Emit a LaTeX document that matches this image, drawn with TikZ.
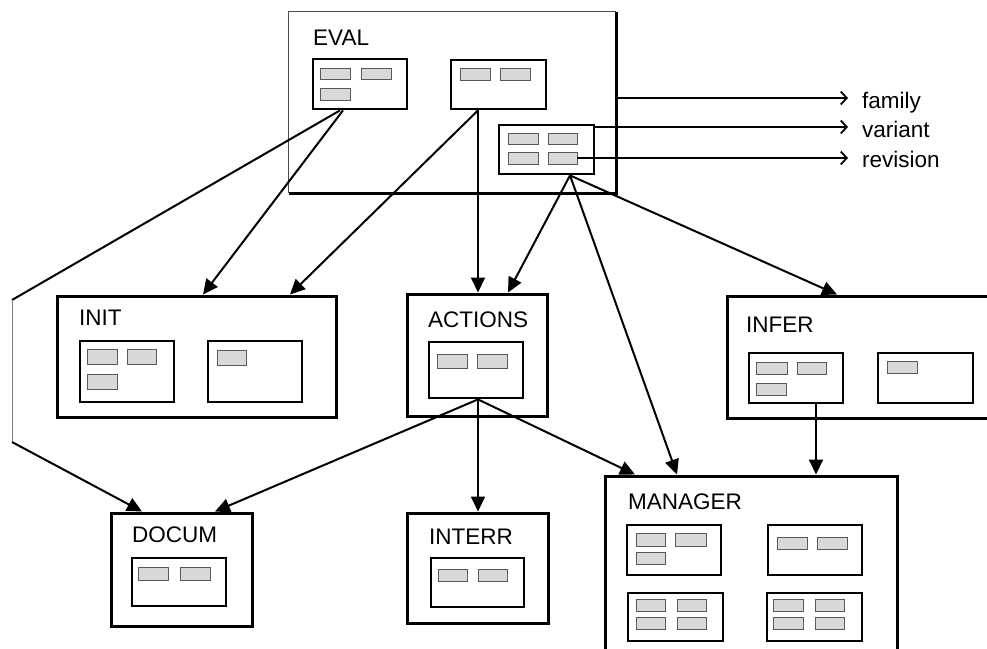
\documentclass[tikz,border=0pt]{standalone}
\usepackage{fontspec}
\setmainfont{Liberation Sans}
\usetikzlibrary{fit,arrows.meta}
\newcommand\bx[6]{\node[#1, fit={(#3,#4) (#5,#6)}] (#2) {};}
\newcommand\sr[5]{\node[sm, fit={(#2,#3) (#4,#5)}] (#1) {};}
\begin{document}
\begin{tikzpicture}[x=1pt,y=-1pt,
  box/.style={draw, line width=3pt, inner sep=0pt},
  inbox/.style={draw, line width=2.8pt, inner sep=0pt},
  sm/.style={draw=gray!70!black, fill=gray!30, line width=0.8pt, inner sep=0pt},
  lbl/.style={font=\fontsize{22.5}{22.5}\selectfont, inner sep=0pt, anchor=base west},
  con/.style={line width=2pt},
  arr/.style={con, -{Triangle[length=15pt,width=14pt]}},
  oarr/.style={line width=1.8pt, -{Straight Barb[length=6pt,width=13pt]}}]
\useasboundingbox (0,0) rectangle (987,648);
\clip (0,0) rectangle (987,648);
% EVAL
\node[inner sep=0pt, fit={(289,12) (616,193)}] (EVAL) {};
\draw[line width=1.2pt, gray!60!black] (EVAL.south west) -- (EVAL.north west) -- (EVAL.north east);
\draw[line width=3pt] (EVAL.north east) -- (EVAL.south east) -- (EVAL.south west);
\node[lbl] (tEVAL) at (313,45) {EVAL};
\bx{inbox}{ev1}{313}{59}{407}{109}
\bx{inbox}{ev2}{451}{60}{546}{109}
\bx{inbox}{ev3}{499}{125}{594}{174}
\sr{e11}{320}{68}{350}{79}
\sr{e12}{361}{68}{391}{79}
\sr{e13}{320}{88}{350}{100}
\sr{e21}{460}{68}{490}{80}
\sr{e22}{500}{68}{530}{80}
\sr{e31}{508}{133}{538}{144}
\sr{e32}{548}{133}{577}{144}
\sr{e33}{508}{152}{538}{164}
\sr{e34}{548}{152}{577}{164}
% INIT
\bx{box}{INIT}{57}{296}{336}{417}
\node[lbl] (tINIT) at (79,325) {INIT};
\bx{inbox}{in1}{80}{341}{174}{402}
\bx{inbox}{in2}{208}{341}{302}{402}
\sr{i11}{87}{349}{117}{364}
\sr{i12}{127}{349}{156}{364}
\sr{i13}{87}{374}{117}{389}
\sr{i21}{217}{350}{246}{365}
% ACTIONS
\bx{box}{ACT}{407}{294}{547}{416}
\node[lbl] (tACT) at (428,327) {ACTIONS};
\bx{inbox}{ac}{429}{342}{523}{398}
\sr{a1}{437}{354}{467}{368}
\sr{a2}{477}{354}{507}{368}
% INFER
\bx{box}{INFER}{727}{296}{1000}{418}
\node[lbl] (tINFER) at (746,332) {INFER};
\bx{inbox}{if1}{749}{353}{843}{403}
\bx{inbox}{if2}{878}{353}{973}{403}
\sr{f11}{756}{362}{787}{374}
\sr{f12}{797}{362}{826}{374}
\sr{f13}{756}{383}{786}{395}
\sr{f21}{887}{361}{917}{373}
% MANAGER
\bx{box}{MAN}{605}{476}{897}{660}
\node[lbl] (tMAN) at (628,509) {MANAGER};
\bx{inbox}{mA}{627}{525}{721}{575}
\bx{inbox}{mB}{768}{525}{862}{575}
\bx{inbox}{mC}{628}{593}{723}{641}
\bx{inbox}{mD}{767}{593}{862}{641}
\sr{mA1}{636}{533}{665}{546}
\sr{mA2}{675}{533}{706}{546}
\sr{mA3}{636}{552}{665}{564}
\sr{mB1}{777}{537}{807}{549}
\sr{mB2}{817}{537}{847}{549}
\sr{mC1}{636}{599}{665}{611}
\sr{mC2}{677}{599}{706}{611}
\sr{mC3}{636}{617}{665}{629}
\sr{mC4}{677}{617}{706}{629}
\sr{mD1}{773}{599}{803}{611}
\sr{mD2}{815}{599}{844}{611}
\sr{mD3}{773}{617}{803}{629}
\sr{mD4}{815}{617}{844}{629}
% DOCUM
\bx{box}{DOC}{111}{513}{252}{626}
\node[lbl] (tDOC) at (132,542) {DOCUM};
\bx{inbox}{dc}{132}{558}{226}{606}
\sr{d1}{138}{567}{168}{580}
\sr{d2}{180}{567}{210}{580}
% INTERR
\bx{box}{INT}{407}{513}{548}{623}
\node[lbl] (tINT) at (429,544) {INTERR};
\bx{inbox}{it}{431}{558}{524}{607}
\sr{t1}{438}{569}{467}{581}
\sr{t2}{478}{569}{507}{581}
% connectors
\coordinate (L1) at (12,300);
\coordinate (L2) at (12,442);
\draw[con] ([xshift=-20pt]ev1.south) -- (L1);
\draw[line width=1pt, gray] (L1) -- (L2);
\draw[arr] (L2) -- ([xshift=-39.5pt]DOC.north);
\draw[arr] ([xshift=-17pt]ev1.south) -- ([xshift=6.5pt]INIT.north);
\draw[arr] ([xshift=-20.5pt]ev2.south) -- ([xshift=93.5pt]INIT.north);
\draw[arr] ([xshift=-20.5pt]ev2.south) -- ([xshift=1pt]ACT.north);
\draw[arr] ([xshift=23.5pt]ev3.south) -- ([xshift=31pt]ACT.north);
\draw[arr] ([xshift=23.5pt]ev3.south) -- ([xshift=-74pt]MAN.north);
\draw[arr] ([xshift=23.5pt]ev3.south) -- ([xshift=-26.5pt]INFER.north);
\draw[arr] ([xshift=2pt]ac.south) -- ([xshift=33.5pt]DOC.north);
\draw[arr] ([xshift=2pt]ac.south) -- ([xshift=0.5pt]INT.north);
\draw[arr] ([xshift=2pt]ac.south) -- ([xshift=-116pt]MAN.north);
\draw[arr] ([xshift=20pt]if1.south) -- ([xshift=65pt]MAN.north);
% outputs
\coordinate (pfam) at (848,98);
\coordinate (pvar) at (848,127);
\coordinate (prev) at (848,158);
\node[lbl] (tfam) at (862,108) {family};
\node[lbl] (tvar) at (862,137) {variant};
\node[lbl] (trev) at (862,167) {revision};
\draw[oarr] ([yshift=4.5pt]EVAL.east) -- (pfam);
\draw[oarr] ([yshift=22.5pt]ev3.east) -- (pvar);
\draw[oarr] (e34.east) -- (prev);
\end{tikzpicture}
\end{document}
